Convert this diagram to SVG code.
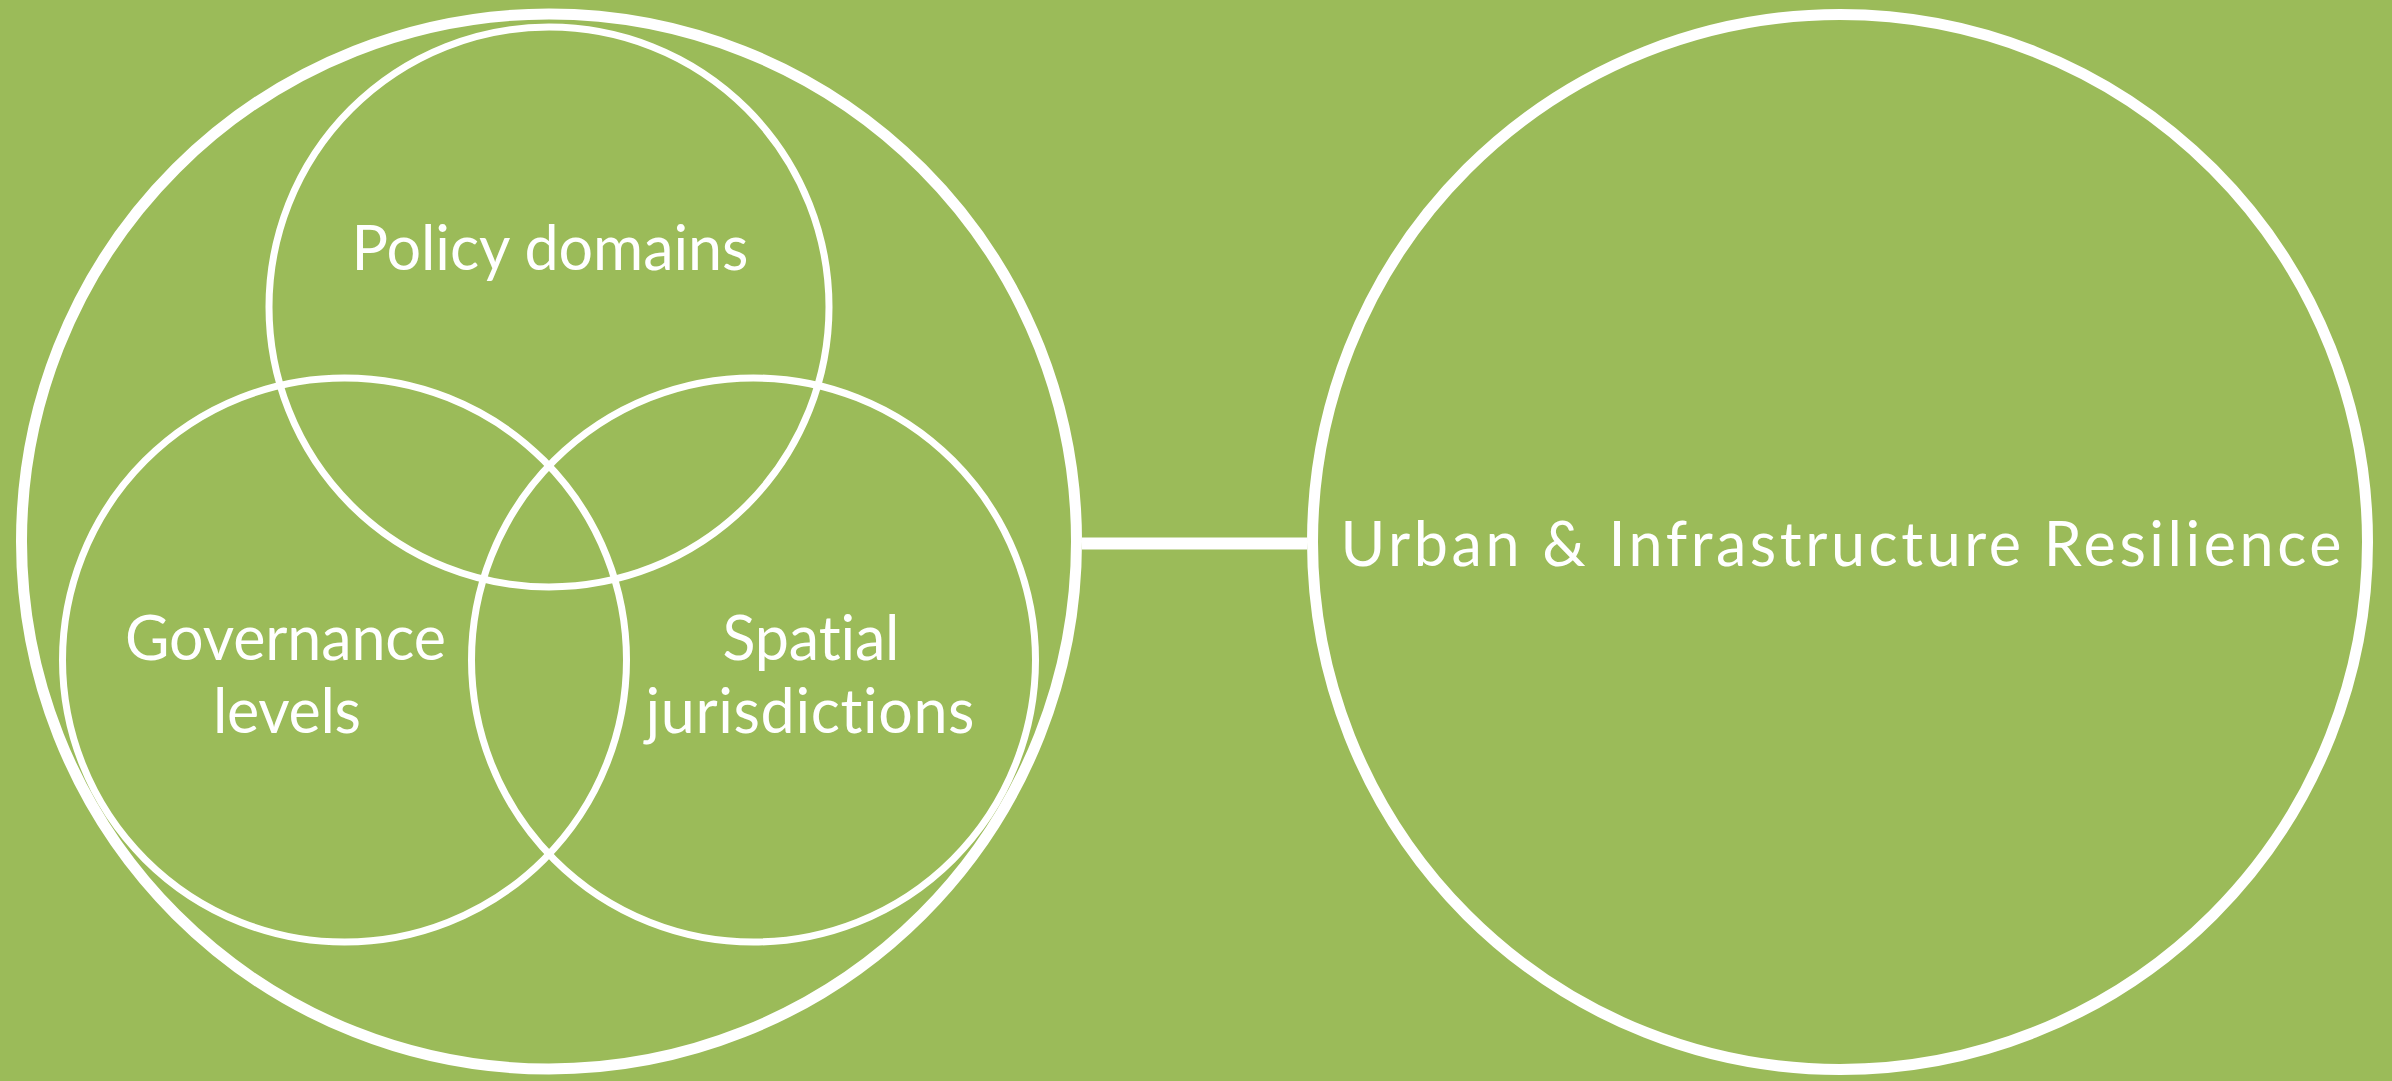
<svg xmlns="http://www.w3.org/2000/svg" width="2392" height="1081" viewBox="0 0 2392 1081">
<style>
.outer{fill:none;stroke:#FFFFFF;stroke-width:11}
.venn{fill:none;stroke:#FFFFFF;stroke-width:7}
.conn{stroke:#FFFFFF;stroke-width:12;fill:none}
.lbl{font-family:Lato,"Open Sans","Liberation Sans",sans-serif;font-size:61px;fill:#FFFFFF;text-anchor:middle;font-variant-ligatures:none;font-feature-settings:"liga" 0,"clig" 0,"dlig" 0}
</style>
<rect x="0" y="0" width="2392" height="1081" fill="#9BBB59"/>
<g id="connectors">
<line class="conn" x1="1082" y1="543.5" x2="1307" y2="543.5"/>
</g>
<g id="governance-system">
<circle class="outer" cx="549" cy="541.5" r="527.5"/>
</g>
<g id="policy-domains">
<circle class="venn" cx="549" cy="307" r="280"/>
<text class="lbl" x="550" y="270" textLength="397" lengthAdjust="spacing">Policy domains</text>
</g>
<g id="governance-levels">
<circle class="venn" cx="344.5" cy="660" r="282"/>
<text class="lbl" x="285.5" y="660" textLength="321" lengthAdjust="spacing">Governance</text>
<text class="lbl" x="287" y="733" textLength="148" lengthAdjust="spacing">levels</text>
</g>
<g id="spatial-jurisdictions">
<circle class="venn" cx="753.5" cy="660" r="282"/>
<text class="lbl" x="811" y="660" textLength="177" lengthAdjust="spacing">Spatial</text>
<text class="lbl" x="810" y="733" textLength="329" lengthAdjust="spacing">jurisdictions</text>
</g>
<g id="urban-infrastructure-resilience">
<circle class="outer" cx="1840" cy="542" r="527.5"/>
<text class="lbl" x="1841" y="566" textLength="1001" lengthAdjust="spacing">Urban &amp; Infrastructure Resilience</text>
</g>
</svg>
